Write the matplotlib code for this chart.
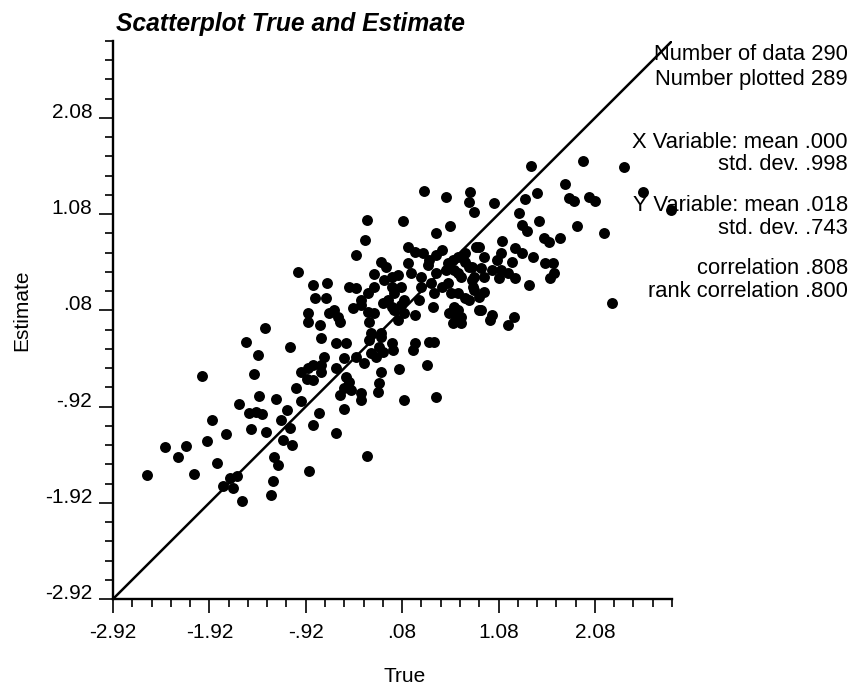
import numpy as np
import matplotlib
matplotlib.use("Agg")
import matplotlib.pyplot as plt
from matplotlib.ticker import FixedLocator

plt.rcParams['font.family'] = ['Liberation Sans', 'DejaVu Sans']

# ---- data ----
true_vals = [
    -2.57, -2.38, -2.16, -2.25, -2.08, -2.00, -1.94, -1.89, -1.84, -1.78,
    -1.71, -1.68, -1.63, -1.75, -1.61, -1.58, -1.54, -1.51, -1.44, -1.37,
    -1.49, -1.46, -1.42, -1.41, -1.34, -1.33, -1.28, -1.26, -1.25, -1.21,
    -1.23, -1.18, -1.16, -1.11, -1.08, -1.06, -1.08, -1.02, -1.00, -0.97,
    -0.97, -0.91, -0.90, -0.84, -0.89, -0.90, -0.90, -0.85, -0.82, -0.77,
    -0.76, -0.73, -0.70, -0.71, -0.68, -0.78, -0.84, -0.61, -0.52, -0.28,
    0.10, 0.43, 0.05, 0.34, -0.84, -0.76, -0.50, -0.47, -0.52, -0.45,
    -0.56, -0.14, -0.16, -0.17, -0.35, -0.35, -0.61, -0.76, -0.52, -0.40,
    -0.32, -0.24, -0.19, -0.61, -0.50, -0.24, -0.26, -0.14, -0.16, -0.12,
    -0.03, -0.01, 0.21, 0.19, 0.36, 0.41, -0.63, -0.59, -0.56, -0.43,
    -0.35, -0.27, -0.26, -0.12, -0.03, 0.07, 0.10, 0.04, 0.21, 0.40,
    0.57, 0.66, 0.69, 0.61, 0.88, -0.21, -0.14, 0.00, -0.47, -0.40,
    -0.21, -0.35, -0.27, -0.07, -0.03, 0.07, 0.00, 0.10, 0.28, 0.25,
    0.38, 0.43, 0.54, 0.49, 0.59, 0.41, 0.66, 0.73, 0.56, -0.14,
    -0.09, -0.21, -0.11, -0.03, 0.04, 0.14, 0.17, 0.35, 0.36, 0.28,
    0.21, 0.30, 0.14, 0.43, 0.49, 0.56, 0.61, 0.66, 0.73, 0.85,
    0.62, 0.77, 0.83, 0.83, 0.77, -0.40, -0.31, -0.28, 0.09, 0.31,
    0.53, 0.78, 0.77, 0.83, 0.58, 0.43, 1.03, 1.29, 1.32, 1.38,
    1.50, 1.55, 1.60, 1.72, 1.89, 2.17, 1.12, 0.88, 1.11, 1.25,
    1.32, 1.44, 0.93, 1.56, 1.65, 1.22, 1.06, 0.73, 0.80, 0.90,
    1.01, 1.11, 1.18, 1.25, 0.66, 1.66, 1.61, 1.08, 0.80, 0.69,
    1.40, 0.82, 0.93, 0.88, 0.62, 0.64, 0.90, 1.01, 0.99, 1.24,
    1.18, 1.42, 1.96, 2.38, 2.58, 2.87, 1.77, 1.48, 1.35, 1.81,
    1.86, 2.02, 2.08, 2.26, 0.93, 0.69,
]
est_vals = [
    -1.63, -1.34, -1.33, -1.44, -1.62, -0.60, -1.28, -1.06, -1.51, -1.75,
    -1.66, -1.77, -1.64, -1.20, -0.89, -1.90, -0.25, -0.99, -0.98, -1.00,
    -1.15, -0.58, -0.38, -0.81, -0.10, -1.18, -1.84, -1.69, -1.44, -1.53,
    -0.84, -1.06, -1.27, -0.96, -1.14, -1.32, -0.30, -0.73, 0.48, -0.86,
    -0.56, -0.63, -0.52, -0.49, -1.59, 0.05, -0.04, 0.34, 0.21, -0.07,
    -0.21, -0.40, 0.36, 0.21, 0.05, -0.99, -1.11, -1.19, -0.94, -1.43,
    -0.85, -0.82, -0.53, -0.49, -0.64, -0.56, -0.61, -0.66, -0.73, -0.75,
    -0.80, -0.56, -0.67, -0.77, -0.78, -0.85, -0.52, -0.49, -0.41, -0.40,
    -0.47, -0.36, -0.40, -0.26, -0.26, -0.15, -0.23, -0.15, -0.30, -0.35,
    -0.26, -0.33, -0.26, -0.33, -0.25, -0.25, 0.08, 0.01, -0.04, 0.10,
    0.14, 0.06, -0.04, 0.16, 0.12, 0.14, 0.05, -0.02, 0.03, 0.12,
    0.05, 0.08, 0.01, -0.05, 0.08, 0.05, -0.20, 0.08, 0.32, 0.31,
    0.32, 0.19, 0.26, 0.19, 0.32, 0.32, 0.26, 0.19, 0.32, 0.19,
    0.36, 0.47, 0.50, 0.32, 0.26, 0.26, 0.26, 0.21, 0.36, 0.58,
    0.53, 0.46, 0.40, 0.43, 0.45, 0.57, 0.47, 0.55, 0.60, 0.43,
    0.69, 0.68, 0.74, 0.66, 0.71, 0.57, 0.60, 0.64, 0.68, 0.74,
    0.50, 0.53, 0.43, 0.29, 0.19, 0.66, 0.81, 1.02, 1.01, 1.32,
    1.26, 1.31, 1.21, 1.10, 0.96, 0.88, 1.20, 1.09, 0.97, 0.90,
    1.01, 0.83, 0.79, 0.83, 0.96, 0.88, 0.80, 0.74, 0.68, 0.73,
    0.68, 0.64, 0.64, 0.57, 0.57, 0.58, 0.60, 0.58, 0.53, 0.52,
    0.50, 0.50, 0.47, 0.42, 0.47, 0.47, 0.42, 0.42, 0.40, 0.43,
    0.34, 0.32, 0.27, 0.22, 0.12, 0.00, 0.08, 0.03, -0.02, 0.01,
    -0.07, 1.58, 1.63, 1.57, 1.31, 1.12, 1.39, 1.30, 1.24, 1.25,
    1.22, 1.26, 1.22, 0.16, 0.43, -0.05,
]

axis_min = -2.92
axis_max = 2.88
major_ticks = [-2.92, -1.92, -0.92, 0.08, 1.08, 2.08]
tick_labels = ['-2.92', '-1.92', '-.92', '.08', '1.08', '2.08']

stats_lines = [
    ("Number of data 290", 55),
    ("Number plotted 289", 79),
    ("X Variable: mean .000", 142),
    ("std. dev. .998", 165),
    ("Y Variable: mean .018", 206),
    ("std. dev. .743", 229),
    ("correlation .808", 269),
    ("rank correlation .800", 292),
]

W, H = 856, 686
fig = plt.figure(figsize=(W / 100, H / 100), dpi=100)
fig.patch.set_facecolor('white')

left, right, top, bottom = 113, 672, 41, 599
ax = fig.add_axes([left / W, 1 - bottom / H, (right - left) / W, (bottom - top) / H])
ax.set_xlim(axis_min, axis_max)
ax.set_ylim(axis_min, axis_max)

ax.plot([axis_min, axis_max], [axis_min, axis_max], color='black', lw=1.8,
        solid_capstyle='butt', zorder=2)
ax.scatter(true_vals, est_vals, s=62, color='black', marker='o', linewidths=0,
           zorder=3, clip_on=False)

for sp in ['top', 'right']:
    ax.spines[sp].set_visible(False)
for sp in ['left', 'bottom']:
    ax.spines[sp].set_linewidth(1.7)

minor = np.round(np.arange(axis_min, axis_max + 0.001, 0.2), 2)
ax.xaxis.set_major_locator(FixedLocator(major_ticks))
ax.yaxis.set_major_locator(FixedLocator(major_ticks))
ax.xaxis.set_minor_locator(FixedLocator(minor))
ax.yaxis.set_minor_locator(FixedLocator(minor))
ax.set_xticklabels(tick_labels)
ax.set_yticklabels(tick_labels)
ax.tick_params(which='major', length=10, width=1.2, direction='out',
               labelsize=15, color='black')
ax.tick_params(which='minor', length=5.5, width=1.2, direction='out', color='black')
ax.tick_params(axis='x', which='major', pad=7)
ax.tick_params(axis='y', which='major', pad=5)
for lab in ax.get_yticklabels():
    lab.set_verticalalignment('baseline')

fig.text(405 / W, 1 - 676 / H, "True", ha='center', va='center', fontsize=15)
fig.text(22 / W, 1 - 310 / H, "Estimate", ha='center', va='center', rotation=90,
         fontsize=15)
fig.text(116 / W, 1 - 24 / H, "Scatterplot True and Estimate", ha='left', va='center',
         fontsize=17.7, fontweight='bold', fontstyle='italic')

for txt, yp in stats_lines:
    fig.text(848 / W, 1 - yp / H, txt, ha='right', va='center', fontsize=15.8)

fig.savefig('out.png', dpi=100, facecolor='white')
